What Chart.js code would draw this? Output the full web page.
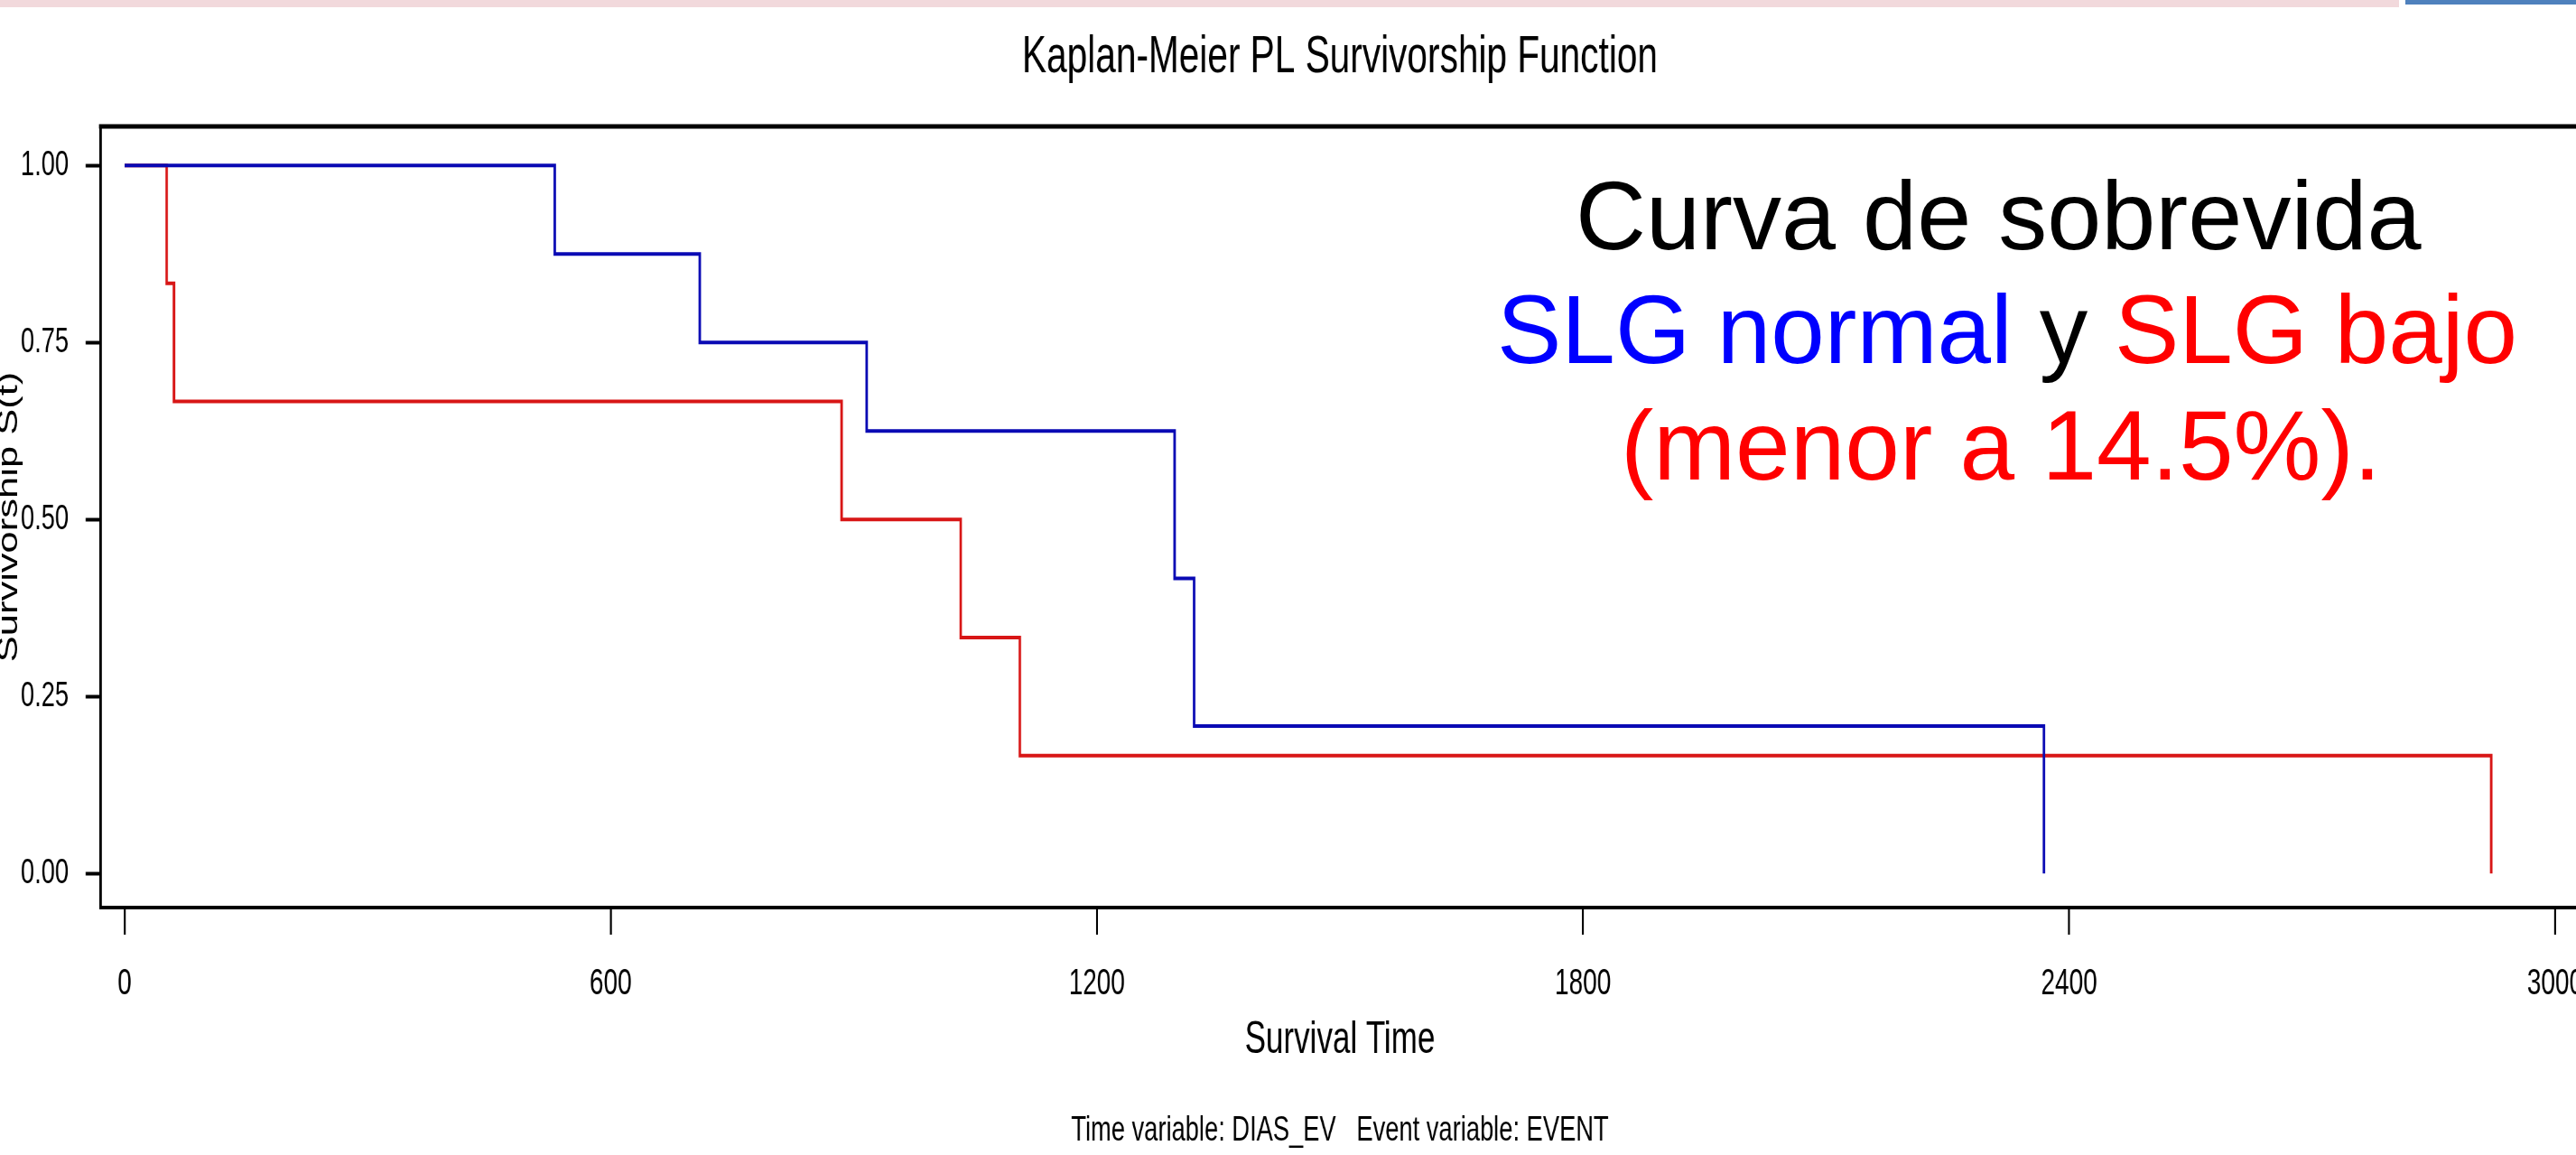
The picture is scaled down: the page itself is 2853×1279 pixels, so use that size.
<!DOCTYPE html>
<html><head><meta charset="utf-8">
<script src="https://cdn.jsdelivr.net/npm/chart.js@4.4.1/dist/chart.umd.min.js"></script>
<style>
html,body{margin:0;padding:0;width:2853px;height:1279px;overflow:hidden;background:#fff;}
#squish{position:absolute;left:0;top:0;width:4142px;height:1279px;transform:scaleX(0.7);transform-origin:0 0;}
.band-pink{position:absolute;left:0;top:0;width:2657px;height:8px;background:#f2d9dc;}
.band-blue{position:absolute;left:2664px;top:0;width:189px;height:5px;background:#4f81bd;}
.note{position:absolute;font-family:'Liberation Sans',Arial,sans-serif;font-size:107px;line-height:107px;white-space:nowrap;}
</style></head>
<body>
<div class="band-pink"></div><div class="band-blue"></div>
<div id="squish"><canvas id="c" width="4142" height="1279"></canvas></div>
<div class="note" style="left:1745px;top:185px;color:#000;font-size:108px;">Curva de sobrevida</div>
<div class="note" style="left:1658px;top:312px"><span style="color:#0000ff">SLG normal</span> <span style="color:#000">y</span> <span style="color:#ff0000">SLG bajo</span></div>
<div class="note" style="left:1795px;top:440px;color:#ff0000;font-size:109px;">(menor a 14.5%).</div>
<script>
// ---- data ----
const normalTimes    = [0, 531, 710, 916, 1296, 1320, 2369];
const normalSurvival = [1, 0.875, 0.75, 0.625, 0.4167, 0.2083, 0];
const lowTimes       = [0, 52, 61, 885, 1032, 1105, 2921];
const lowSurvival    = [1, 0.8333, 0.6667, 0.5, 0.3333, 0.1667, 0];
const xTickValues = [0, 600, 1200, 1800, 2400, 3000];
const xTickLabels = ['0', '600', '1200', '1800', '2400', '3000'];
const yTickValues = [0, 0.25, 0.5, 0.75, 1];
const yTickLabels = ['0.00', '0.25', '0.50', '0.75', '1.00'];

const FAM = "'Liberation Sans', Arial, sans-serif";
const toPoints = (t, s) => t.map((x, i) => ({x: x, y: s[i]}));

const framePlugin = {
  id: 'frame',
  afterDraw(chart) {
    const {ctx, chartArea: a} = chart;
    ctx.save();
    ctx.strokeStyle = '#000';
    ctx.lineWidth = 5;
    ctx.beginPath(); ctx.moveTo(a.left - 2, a.top); ctx.lineTo(a.right + 2, a.top); ctx.stroke();
    ctx.lineWidth = 4;
    ctx.beginPath(); ctx.moveTo(a.right, a.top); ctx.lineTo(a.right, a.bottom); ctx.stroke();
    ctx.restore();
  }
};

new Chart(document.getElementById('c'), {
  type: 'line',
  data: {
    datasets: [
      {label: 'SLG normal', data: toPoints(normalTimes, normalSurvival), borderColor: '#0a0ab4',
       borderWidth: 4, stepped: 'before', pointRadius: 0, fill: false, tension: 0},
      {label: 'SLG bajo', data: toPoints(lowTimes, lowSurvival), borderColor: '#d81616',
       borderWidth: 4, stepped: 'before', pointRadius: 0, fill: false, tension: 0}
    ]
  },
  options: {
    responsive: false,
    animation: false,
    devicePixelRatio: 1,
    layout: {padding: {left: 0, right: 60.7, top: 0, bottom: 0}},
    plugins: {
      legend: {display: false},
      tooltip: {enabled: false},
      title: {display: true, text: 'Kaplan-Meier PL Survivorship Function', color: '#000', fullSize: false,
              font: {family: FAM, size: 58, weight: 'normal', lineHeight: 1.2},
              padding: {top: 29.2, bottom: 41.2}},
      subtitle: {display: true, position: 'bottom', text: 'Time variable: DIAS_EV   Event variable: EVENT',
                 color: '#000', fullSize: false,
                 font: {family: FAM, size: 39, weight: 'normal', lineHeight: 1.2},
                 padding: {top: 0, bottom: 3}}
    },
    scales: {
      x: {
        type: 'linear', min: -30, max: 3030, bounds: 'data',
        afterBuildTicks: s => { s.ticks = xTickValues.map(v => ({value: v})); },
        afterFit: s => { s.height = 224.2; },
        ticks: {autoSkip: false, maxRotation: 0, padding: 31, color: '#000',
                font: {family: FAM, size: 40}, callback: (v, i) => xTickLabels[i]},
        grid: {display: true, drawOnChartArea: false, drawTicks: true, tickLength: 30, tickWidth: 3, tickColor: '#000'},
        border: {display: true, color: '#000', width: 4},
        title: {display: true, text: 'Survival Time', color: '#000',
                font: {family: FAM, size: 50, lineHeight: 1.2}, padding: {top: 0, bottom: 47.2}}
      },
      y: {
        type: 'linear', min: -0.048, max: 1.055, bounds: 'data',
        afterBuildTicks: s => { s.ticks = yTickValues.map(v => ({value: v})); },
        afterFit: s => { s.width = 158.6; },
        ticks: {autoSkip: false, padding: 27, color: '#000',
                font: {family: FAM, size: 39}, callback: (v, i) => yTickLabels[i]},
        grid: {display: true, drawOnChartArea: false, drawTicks: true, tickLength: 23, tickWidth: 4, tickColor: '#000'},
        border: {display: true, color: '#000', width: 4},
        title: {display: true, text: 'Survivorship S(t)', color: '#000',
                font: {family: FAM, size: 43.5, lineHeight: 0.85}, padding: {top: -3, bottom: 0}}
      }
    }
  },
  plugins: [framePlugin]
});
</script>
</body></html>
